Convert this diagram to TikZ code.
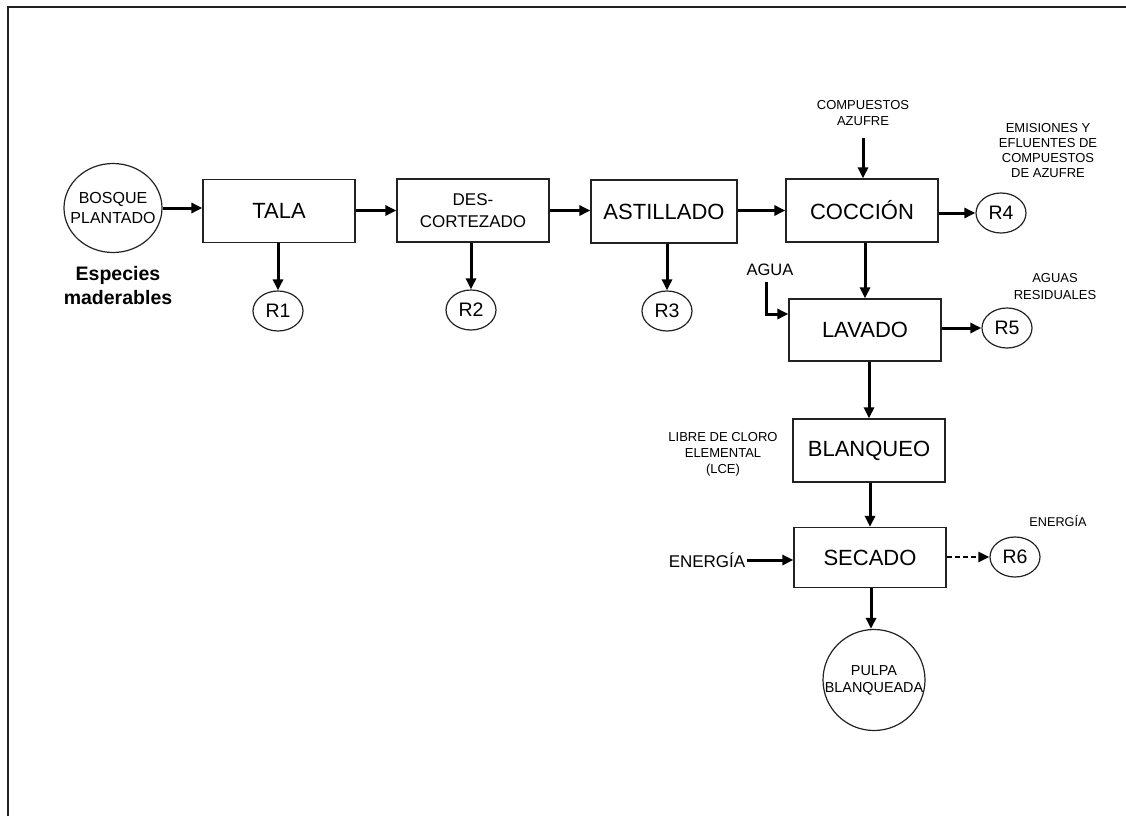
\documentclass[tikz,border=0pt]{standalone}
\usepackage{fontspec}
\setmainfont{Liberation Sans}
\usetikzlibrary{arrows.meta,positioning,shapes.geometric}
\definecolor{linegray}{HTML}{222222}
\newcommand{\tight}[1]{\makebox[0pt]{#1}}

\begin{document}
\begin{tikzpicture}[
  x=1pt, y=-1pt,
  >={Triangle[length=11pt,width=10pt]},
  flow/.style={->, draw=black, line width=3pt},
  stage/.style={draw=linegray, line width=1.2pt, minimum width=152pt, minimum height=63pt,
    align=center, inner sep=0pt, font=\fontsize{22}{26}\selectfont},
  waste/.style={ellipse, draw=linegray, line width=1.2pt, minimum width=50pt, minimum height=40pt,
    inner sep=0pt, font=\fontsize{19.5}{22}\selectfont},
  note/.style={align=center, inner sep=2pt, font=\fontsize{13}{15.5}\selectfont}
]
  \useasboundingbox (0,0) rectangle (1126,816);
  \draw[linegray, line width=2pt] (8,816) -- (8,7) -- (1126,7);

  % raw material
  \node[ellipse, draw=linegray, line width=1.2pt, minimum width=98pt, minimum height=89pt,
        inner sep=0pt, align=center, font=\fontsize{16}{20}\selectfont] (bosque) at (113,208) {\tight{BOSQUE}\\\tight{PLANTADO}};
  \node[align=center, font=\bfseries\fontsize{19.5}{24}\selectfont] (especies) at (118,286) {Especies\\maderables};

  % main line
  \node[stage] (tala) at (279,211) {TALA};
  \node[stage, font=\fontsize{17}{22}\selectfont] (descort) at (473,210.5) {DES-\\CORTEZADO};
  \node[stage, minimum width=146pt] (astill) at (664,211.5) {ASTILLADO};
  \node[stage] (coccion) at (862,210.5) {COCCIÓN};
  \node[stage, minimum height=62pt] (lavado) at (865,330) {LAVADO};
  \node[stage] (blanqueo) at (869,450.5) {BLANQUEO};
  \node[stage, minimum height=60pt] (secado) at (870,557.5) {SECADO};
  \node[ellipse, draw=linegray, line width=1.2pt, minimum width=102pt, minimum height=101pt,
        inner sep=0pt, align=center, font=\fontsize{14.4}{17}\selectfont] (pulpa) at (874,680) {\tight{PULPA}\\\tight{BLANQUEADA}};

  % residues
  \node[waste] (r1) at (278,311) {R1};
  \node[waste] (r2) at (471,310) {R2};
  \node[waste] (r3) at (667,311) {R3};
  \node[waste] (r4) at (1001,213) {R4};
  \node[waste] (r5) at (1007,328) {R5};
  \node[waste] (r6) at (1015,557) {R6};

  % inputs and notes
  \node[note] (compuestos) at (863,113) {COMPUESTOS\\AZUFRE};
  \coordinate (azufre) at (863,138);
  \node[note, font=\fontsize{13}{15}\selectfont] (emisiones) at (1048,150.5) {EMISIONES Y\\EFLUENTES DE\\COMPUESTOS\\DE AZUFRE};
  \node[note, font=\fontsize{16.5}{20}\selectfont] (agua) at (770,270) {AGUA};
  \coordinate (aguain) at (766,282);
  \node[note, font=\fontsize{13}{17}\selectfont] (aguasres) at (1055,286.5) {AGUAS\\RESIDUALES};
  \node[note, font=\fontsize{13}{16}\selectfont] (lce) at (723,454) {LIBRE DE CLORO\\ELEMENTAL\\(LCE)};
  \node[note, font=\fontsize{17}{20}\selectfont] (energia) at (707,560) {ENERGÍA};
  \node[note, font=\fontsize{12.7}{15}\selectfont] (energiasal) at (1058,521) {ENERGÍA};

  % connectors
  \draw[flow] (bosque) -- (tala.west |- bosque);
  \draw[flow] (tala.east |- descort) -- (descort);
  \draw[flow] (descort) -- (astill.west |- descort);
  \draw[flow] (astill.east |- descort) -- (coccion.west |- descort);
  \draw[flow] (coccion.east |- r4) -- (r4);
  \draw[flow] (azufre) -- (coccion.north -| azufre);
  \draw[flow] (tala.south -| r1) -- (r1);
  \draw[flow] (descort.south -| r2) -- (r2);
  \draw[flow] (astill.south -| r3) -- (r3);
  \draw[flow] (coccion.south -| lavado) -- (lavado.north);
  \draw[flow] (aguain) |- ([yshift=16pt]lavado.west);
  \draw[flow] (lavado.east |- r5) -- (r5);
  \draw[flow] (lavado.south -| blanqueo) -- (blanqueo.north);
  \draw[flow] (blanqueo.south -| secado) -- (secado.north);
  \draw[flow] (energia.east) -- (secado.west |- energia);
  \draw[flow, line width=2.4pt, dash pattern=on 5pt off 3pt] (secado.east |- r6) -- (r6);
  \draw[flow] (secado.south -| 871,0) -- (pulpa.north -| 871,0);
\end{tikzpicture}
\end{document}
